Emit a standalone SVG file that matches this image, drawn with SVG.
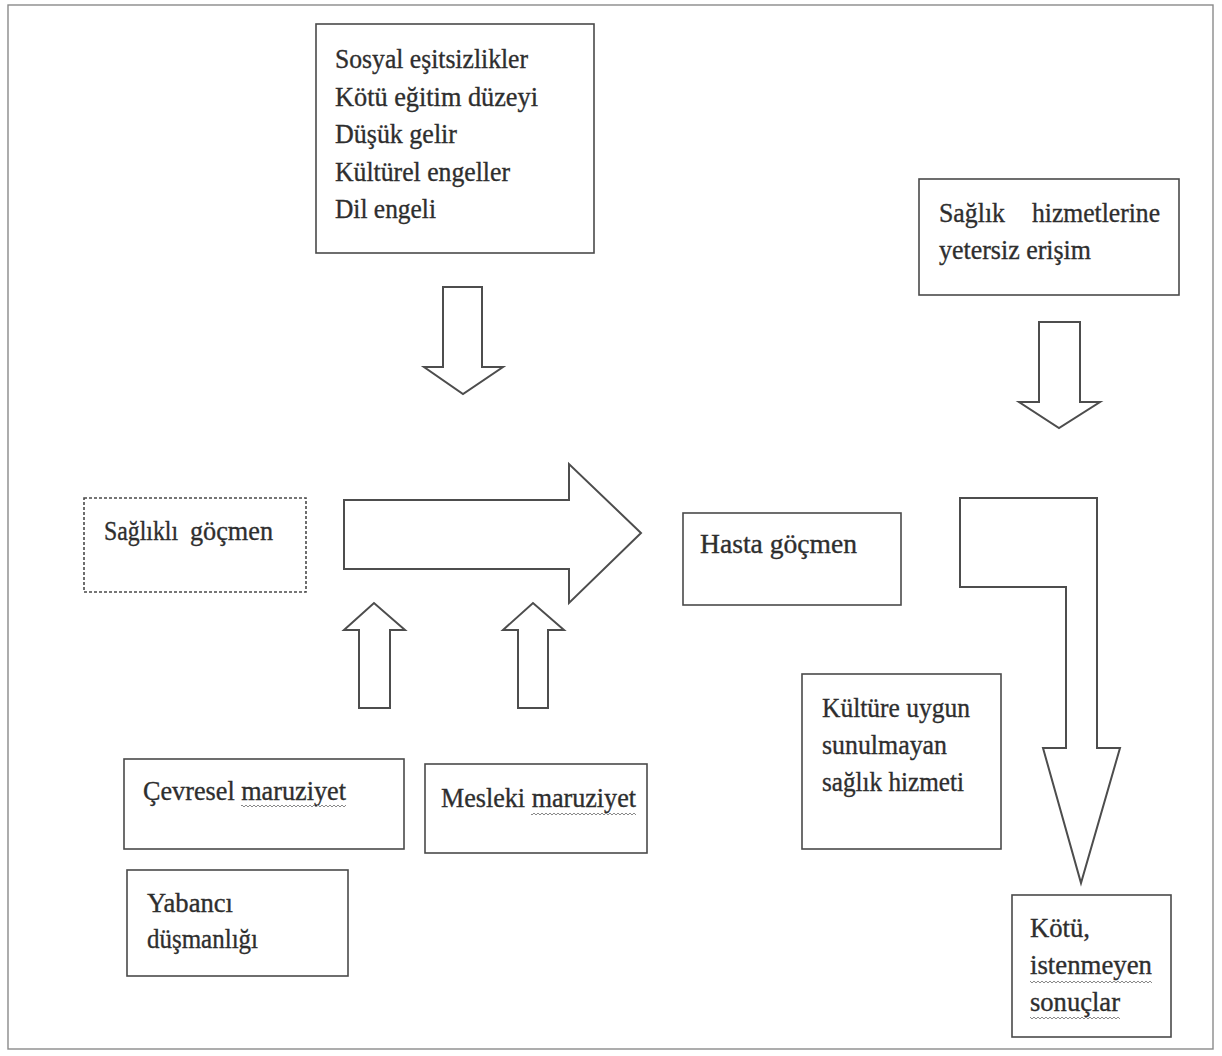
<svg xmlns="http://www.w3.org/2000/svg" width="1222" height="1056" viewBox="0 0 1222 1056">
  <defs>
    <style>
      .box { fill: #ffffff; stroke: #4a4a4a; stroke-width: 1.6; }
      .dash { fill: #ffffff; stroke: #4a4a4a; stroke-width: 1.6; stroke-dasharray: 3 2; }
      .arrow { fill: #ffffff; stroke: #4d4d4d; stroke-width: 2; stroke-linejoin: miter; }
      .t { font-family: "Liberation Serif", "Times New Roman", serif; font-size: 28px; fill: #2e2e2e; stroke: #2e2e2e; stroke-width: 0.35; }
      .wave { fill: url(#wave); }
    </style>
    <pattern id="wave" width="4" height="4" patternUnits="userSpaceOnUse">
      <path d="M0 3 L2 1 L4 3" fill="none" stroke="#8a8a8a" stroke-width="1"/>
    </pattern>
  </defs>

  <rect x="0" y="0" width="1222" height="1056" fill="#ffffff"/>
  <rect x="8" y="5" width="1205" height="1044" fill="none" stroke="#8a8a8a" stroke-width="1.4"/>

  <g id="connectors">
    <polygon class="arrow" points="443,287 482,287 482,367 503,367 463,394 424,367 443,367"/>
    <polygon class="arrow" points="1039,322 1080,322 1080,402 1100,402 1059,428 1019,402 1039,402"/>
    <polygon class="arrow" points="344,500 569,500 569,464 641,533 569,603 569,569 344,569"/>
    <polygon class="arrow" points="359,708 359,630 344,630 374,603 405,630 390,630 390,708"/>
    <polygon class="arrow" points="518,708 518,630 503,630 533,603 564,630 548,630 548,708"/>
    <polygon class="arrow" points="960,498 1097,498 1097,748 1120,748 1081,883 1043,748 1066,748 1066,587 960,587"/>
  </g>

  <g id="node-top">
    <rect class="box" x="316" y="24" width="278" height="229"/>
    <text class="t" x="335" y="68" textLength="193" lengthAdjust="spacingAndGlyphs">Sosyal eşitsizlikler</text>
    <text class="t" x="335" y="106" textLength="203" lengthAdjust="spacingAndGlyphs">Kötü eğitim düzeyi</text>
    <text class="t" x="335" y="143" textLength="122" lengthAdjust="spacingAndGlyphs">Düşük gelir</text>
    <text class="t" x="335" y="181" textLength="175" lengthAdjust="spacingAndGlyphs">Kültürel engeller</text>
    <text class="t" x="335" y="218" textLength="101" lengthAdjust="spacingAndGlyphs">Dil engeli</text>
  </g>

  <g id="node-access">
    <rect class="box" x="919" y="179" width="260" height="116"/>
    <text class="t" x="939" y="222"><tspan textLength="66" lengthAdjust="spacingAndGlyphs">Sağlık</tspan> <tspan x="1032" textLength="128" lengthAdjust="spacingAndGlyphs">hizmetlerine</tspan></text>
    <text class="t" x="939" y="259" textLength="152" lengthAdjust="spacingAndGlyphs">yetersiz erişim</text>
  </g>

  <g id="node-healthy">
    <rect class="dash" x="84" y="498" width="222" height="94"/>
    <text class="t" x="104" y="540"><tspan textLength="74" lengthAdjust="spacingAndGlyphs">Sağlıklı</tspan> <tspan x="190" textLength="83" lengthAdjust="spacingAndGlyphs">göçmen</tspan></text>
  </g>

  <g id="node-sick">
    <rect class="box" x="683" y="513" width="218" height="92"/>
    <text class="t" x="700" y="553" textLength="157" lengthAdjust="spacingAndGlyphs">Hasta göçmen</text>
  </g>

  <g id="node-culture">
    <rect class="box" x="802" y="674" width="199" height="175"/>
    <text class="t" x="822" y="717" textLength="148" lengthAdjust="spacingAndGlyphs">Kültüre uygun</text>
    <text class="t" x="822" y="754" textLength="125" lengthAdjust="spacingAndGlyphs">sunulmayan</text>
    <text class="t" x="822" y="791" textLength="142" lengthAdjust="spacingAndGlyphs">sağlık hizmeti</text>
  </g>

  <g id="node-env">
    <rect class="box" x="124" y="759" width="280" height="90"/>
    <text class="t" x="143" y="800" textLength="203" lengthAdjust="spacingAndGlyphs">Çevresel maruziyet</text>
    <rect class="wave" x="241" y="805" width="105" height="4"/>
  </g>

  <g id="node-occ">
    <rect class="box" x="425" y="764" width="222" height="89"/>
    <text class="t" x="441" y="807" textLength="195" lengthAdjust="spacingAndGlyphs">Mesleki maruziyet</text>
    <rect class="wave" x="531" y="811" width="105" height="4"/>
  </g>

  <g id="node-xeno">
    <rect class="box" x="127" y="870" width="221" height="106"/>
    <text class="t" x="147" y="912" textLength="86" lengthAdjust="spacingAndGlyphs">Yabancı</text>
    <text class="t" x="147" y="948" textLength="111" lengthAdjust="spacingAndGlyphs">düşmanlığı</text>
  </g>

  <g id="node-bad">
    <rect class="box" x="1012" y="895" width="159" height="142"/>
    <text class="t" x="1030" y="937" textLength="60" lengthAdjust="spacingAndGlyphs">Kötü,</text>
    <text class="t" x="1030" y="974" textLength="122" lengthAdjust="spacingAndGlyphs">istenmeyen</text>
    <rect class="wave" x="1030" y="979" width="122" height="4"/>
    <text class="t" x="1030" y="1011" textLength="90" lengthAdjust="spacingAndGlyphs">sonuçlar</text>
    <rect class="wave" x="1030" y="1016" width="90" height="4"/>
  </g>
</svg>
